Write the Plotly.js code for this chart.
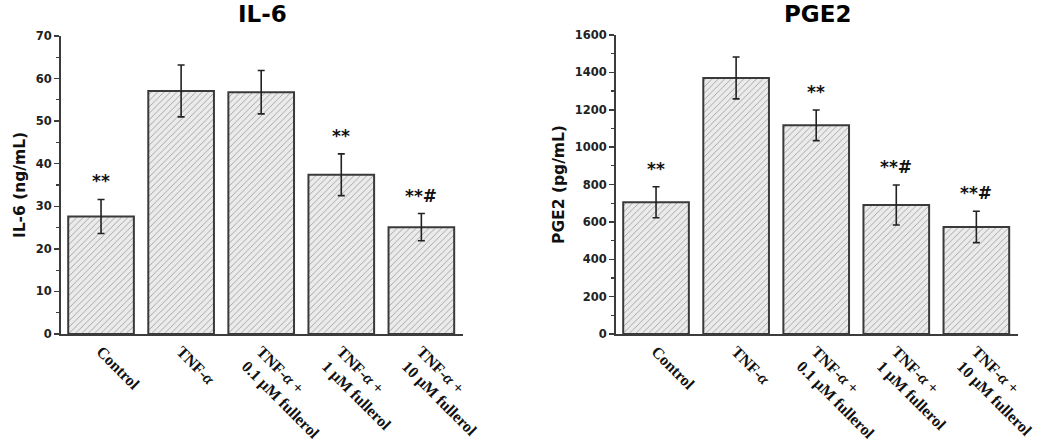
<!DOCTYPE html>
<html>
<head>
<meta charset="utf-8">
<script src="https://cdn.plot.ly/plotly-3.0.1.min.js"></script>
<style>
  html, body { margin: 0; padding: 0; background: #fff; }
  #chart { width: 1050px; height: 442px; }
</style>
</head>
<body>
<div id="chart"></div>
<script>
// groups on the x axis
const groups = [
  "Control",
  "TNF-<i>α</i>",
  "TNF-<i>α</i> +<br>0.1 μM fullerol",
  "TNF-<i>α</i> +<br>1 μM fullerol",
  "TNF-<i>α</i> +<br>10 μM fullerol"
];
const xpos = [0, 1, 2, 3, 4];

// IL-6 (ng/mL)
const il6 = [27.6, 57.1, 56.8, 37.4, 25.1];
const il6Err = [4.0, 6.1, 5.1, 4.9, 3.2];
const il6Marks = ["**", "", "", "**", "**#"];

// PGE2 (pg/mL)
const pge2 = [705, 1370, 1117, 690, 573];
const pge2Err = [83, 112, 82, 107, 84];
const pge2Marks = ["**", "", "**", "**#", "**#"];

const sans = "DejaVu Sans, Arial, sans-serif";
const serif = "Liberation Serif, Times New Roman, serif";
const axisCol = "#3c3c3c";

function barTrace(y, err, xa, ya) {
  return {
    type: "bar", x: xpos, y: y, xaxis: xa, yaxis: ya, width: 0.82,
    marker: {
      color: "#ebebeb",
      line: {color: "#3a3a3a", width: 2},
      pattern: {shape: "/", fgcolor: "#a0a0a0", bgcolor: "#ebebeb", size: 4.5, solidity: 0.2}
    },
    error_y: {type: "data", array: err, visible: true, color: "#222", thickness: 1.6, width: 3.5},
    hoverinfo: "none", showlegend: false
  };
}

const data = [
  barTrace(il6, il6Err, "x", "y"),
  barTrace(pge2, pge2Err, "x2", "y2")
];

function xAxis(dom, anchor) {
  return {
    domain: dom, anchor: anchor, range: [-0.5, 4.52],
    tickvals: xpos, ticktext: groups, tickangle: 45,
    ticklabeloverflow: "allow",
    ticks: "", showline: true, linecolor: axisCol, linewidth: 2,
    showgrid: false, zeroline: false,
    tickfont: {family: serif, size: 16, color: "#111", weight: "bold"}
  };
}
function yAxis(dom, anchor, range, dtick, title) {
  return {
    domain: dom, anchor: anchor, range: range, dtick: dtick,
    ticks: "outside", ticklen: 5, tickwidth: 1.5, tickcolor: axisCol,
    minor: {dtick: dtick / 2, ticks: "outside", ticklen: 3, tickwidth: 1.2, tickcolor: axisCol},
    showline: true, linecolor: axisCol, linewidth: 2,
    showgrid: false, zeroline: false,
    tickfont: {family: sans, size: 11.5, color: "#222", weight: "bold"},
    title: {text: title, standoff: 6, font: {family: sans, size: 15.5, color: "#111", weight: "bold"}}
  };
}

const annotations = [];
function addMarks(vals, errs, marks, xa, ya) {
  marks.forEach(function(m, i) {
    if (!m) return;
    annotations.push({
      x: xpos[i], y: vals[i] + errs[i], xref: xa, yref: ya,
      text: m, showarrow: false, yanchor: "middle", yshift: 18,
      font: {family: sans, size: 17, color: "#111", weight: "bold"}
    });
  });
}
addMarks(il6, il6Err, il6Marks, "x", "y");
addMarks(pge2, pge2Err, pge2Marks, "x2", "y2");

annotations.push({xref: "x domain", yref: "paper", x: 0.5, y: 1 - 13.5 / 442, yanchor: "middle",
  text: "IL-6", showarrow: false, font: {family: sans, size: 23, color: "#000", weight: "bold"}});
annotations.push({xref: "x2 domain", yref: "paper", x: 0.5, y: 1 - 13.5 / 442, yanchor: "middle",
  text: "PGE2", showarrow: false, font: {family: sans, size: 23, color: "#000", weight: "bold"}});

const layout = {
  width: 1050, height: 442,
  margin: {l: 0, r: 0, t: 0, b: 0},
  paper_bgcolor: "#fff", plot_bgcolor: "#fff",
  xaxis: xAxis([61 / 1050, 463 / 1050], "y"),
  yaxis: yAxis([1 - 334 / 442, 1 - 36 / 442], "x", [0, 70], 10, "IL-6 (ng/mL)"),
  xaxis2: xAxis([616 / 1050, 1018 / 1050], "y2"),
  yaxis2: yAxis([1 - 334 / 442, 1 - 35 / 442], "x2", [0, 1600], 200, "PGE2 (pg/mL)"),
  annotations: annotations
};

Plotly.newPlot("chart", data, layout, {displayModeBar: false, staticPlot: true});
</script>
</body>
</html>
